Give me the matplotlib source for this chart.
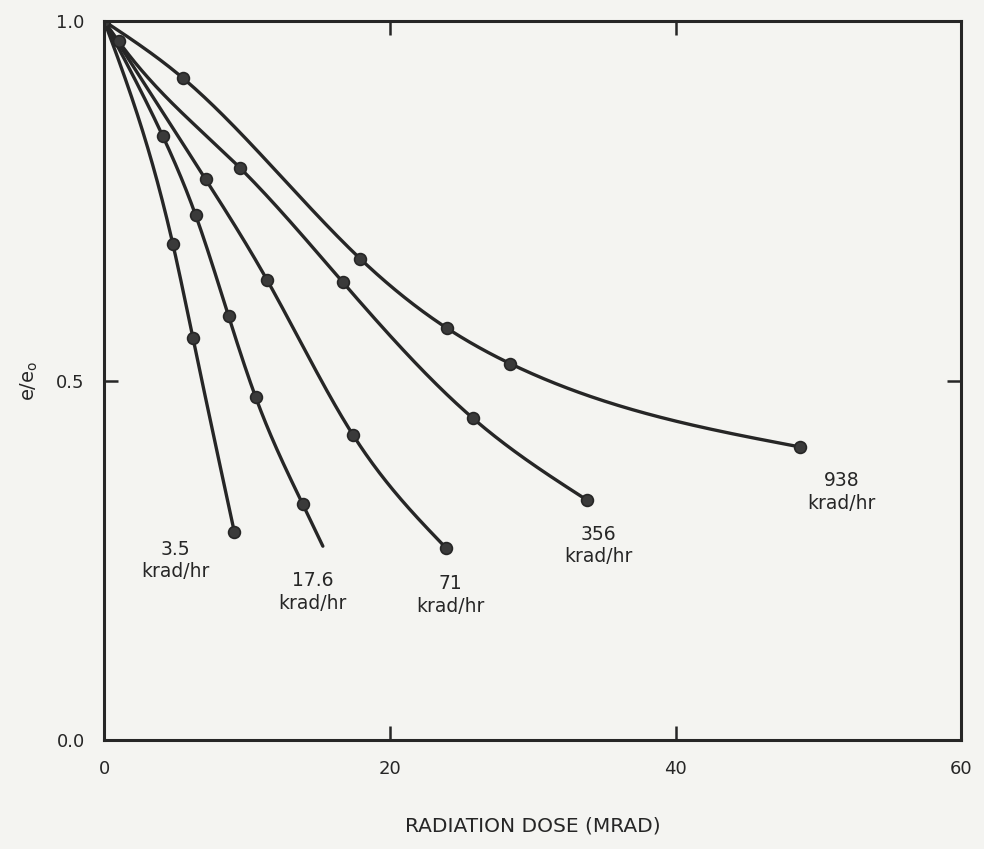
import numpy as np
import matplotlib
matplotlib.use('Agg')
import matplotlib.pyplot as plt

# dose (MRAD) and e/e0, one pair of lists per dose rate
dose_35 = [0, 4.8, 6.2, 9.1]
ratio_35 = [1.0, 0.69, 0.56, 0.29]

dose_176 = [0, 4.1, 6.4, 8.7, 10.6, 13.9]
ratio_176 = [1.0, 0.84, 0.73, 0.59, 0.477, 0.328]
end_176 = [15.3, 0.27]  # line runs on past the last point

dose_71 = [0, 7.1, 11.4, 17.4, 23.9]
ratio_71 = [1.0, 0.78, 0.64, 0.425, 0.268]

dose_356 = [0, 1.0, 9.5, 16.7, 25.8, 33.8]
ratio_356 = [1.0, 0.972, 0.796, 0.637, 0.448, 0.334]

dose_938 = [0, 5.5, 17.9, 24.0, 28.4, 48.7]
ratio_938 = [1.0, 0.921, 0.670, 0.573, 0.524, 0.408]

labels = ['3.5\nkrad/hr', '17.6\nkrad/hr', '71\nkrad/hr', '356\nkrad/hr', '938\nkrad/hr']
label_pos = [(5.0, 0.25), (14.6, 0.206), (24.2, 0.202), (34.6, 0.271), (51.6, 0.345)]

ink = '#262626'
bg = '#f4f4f1'


def smooth(xs, ys, n=300):
    # natural cubic spline through the read points, only used to draw the line
    x = np.asarray(xs, float)
    y = np.asarray(ys, float)
    npt = len(x)
    h = np.diff(x)
    A = np.zeros((npt, npt))
    r = np.zeros(npt)
    A[0, 0] = A[-1, -1] = 1
    for i in range(1, npt - 1):
        A[i, i - 1] = h[i - 1]
        A[i, i] = 2 * (h[i - 1] + h[i])
        A[i, i + 1] = h[i]
        r[i] = 6 * ((y[i + 1] - y[i]) / h[i] - (y[i] - y[i - 1]) / h[i - 1])
    M = np.linalg.solve(A, r)
    xx = np.linspace(x[0], x[-1], n)
    k = np.clip(np.searchsorted(x, xx) - 1, 0, npt - 2)
    a = x[k + 1] - xx
    b = xx - x[k]
    hk = h[k]
    yy = (M[k] * a**3 / (6 * hk) + M[k + 1] * b**3 / (6 * hk)
          + (y[k] / hk - M[k] * hk / 6) * a + (y[k + 1] / hk - M[k + 1] * hk / 6) * b)
    return xx, yy


fig = plt.figure(figsize=(9.84, 8.49), dpi=100, facecolor=bg)
ax = fig.add_axes([0.106, 0.128, 0.871, 0.847], facecolor=bg)

series = [
    (dose_35, ratio_35, None),
    (dose_176, ratio_176, end_176),
    (dose_71, ratio_71, None),
    (dose_356, ratio_356, None),
    (dose_938, ratio_938, None),
]

for (xs, ys, extra), text, pos in zip(series, labels, label_pos):
    fx, fy = list(xs), list(ys)
    if extra is not None:
        fx.append(extra[0])
        fy.append(extra[1])
    xx, yy = smooth(fx, fy)
    ax.plot(xx, yy, color=ink, lw=2.4, solid_capstyle='round')
    ax.plot(xs, ys, 'o', color='#3a3a3a', mec=ink, mew=1.2, ms=8.5)
    ax.text(pos[0], pos[1], text, ha='center', va='center', fontsize=13.5,
            color=ink, linespacing=1.25)

ax.set_xlim(0, 60)
ax.set_ylim(0, 1.0)
ax.set_xticks([0, 20, 40, 60])
ax.set_yticks([0.0, 0.5, 1.0])
ax.set_yticklabels(['0.0', '0.5', '1.0'])
ax.tick_params(direction='in', length=10, width=1.8, colors=ink, labelsize=13,
               top=True, right=True, pad=14)
for side in ax.spines.values():
    side.set_linewidth(2.2)
    side.set_color(ink)

ax.set_xlabel('RADIATION DOSE (MRAD)', fontsize=14.5, color=ink, labelpad=28)
ax.set_ylabel(r'e/e$_\mathregular{o}$', fontsize=14, color=ink, labelpad=12)

plt.savefig('out.png', dpi=100, facecolor=bg)
